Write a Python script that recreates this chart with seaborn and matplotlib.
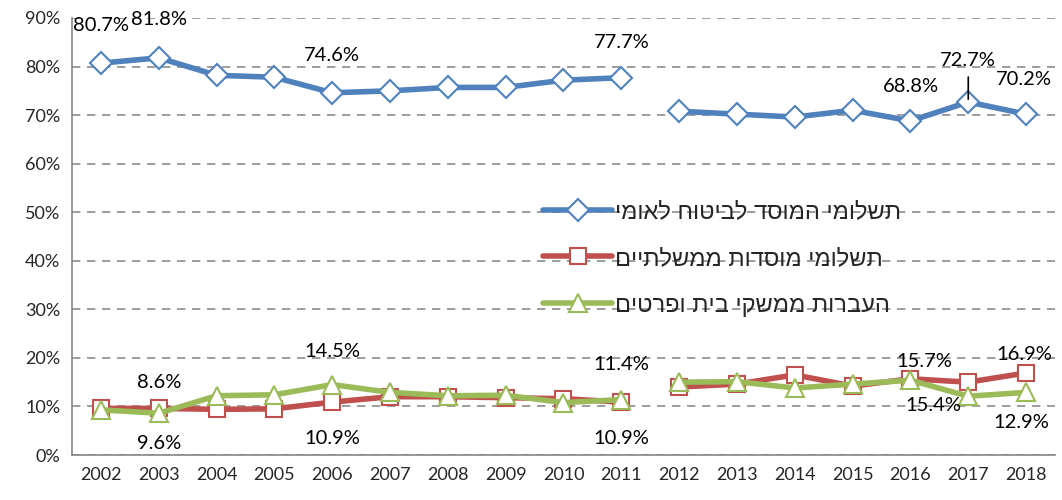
import numpy as np
import pandas as pd
import seaborn as sns
from matplotlib import pyplot as plt
from matplotlib.ticker import PercentFormatter, MultipleLocator

# נתונים (אחוזים)
years = list(range(2002, 2019))
bituach_leumi = [80.7, 81.8, 78.2, 77.8, 74.6, 75.0, 75.7, 75.7, 77.2, 77.7,
                 70.8, 70.2, 69.6, 71.0, 68.8, 72.7, 70.2]
mosdot = [9.6, 9.6, 9.4, 9.5, 10.9, 12.0, 12.0, 11.8, 11.6, 10.9,
          14.0, 14.6, 16.5, 14.2, 15.7, 15.0, 16.9]
meshakei_bait = [9.3, 8.6, 12.2, 12.4, 14.5, 12.9, 12.2, 12.3, 10.8, 11.4,
                 15.0, 15.1, 13.8, 14.6, 15.4, 12.1, 12.9]

series_names = ['תשלומי המוסד לביטוח לאומי', 'תשלומי מוסדות ממשלתיים', 'העברות ממשקי בית ופרטים']
colors = ['#4F81BD', '#C0504D', '#9BBB59']
markers = ['D', 's', '^']
marker_sizes = [11, 12, 13]

# תוויות נתונים: (סדרה, שנה, היסט x, היסט y בפיקסלים)
labels = [
    (0, 2002, 0, 38), (0, 2003, 0, 38), (0, 2006, 0, 37), (0, 2011, 0, 35),
    (0, 2016, 0, 34), (0, 2017, 0, 42), (0, 2018, -2, 35),
    (1, 2003, 0, -35), (1, 2006, 0, -36), (1, 2011, 0, -36),
    (1, 2016, 14, 17), (1, 2018, -2, 18),
    (2, 2003, 0, 31), (2, 2006, 0, 33), (2, 2011, 0, 35),
    (2, 2016, 23, -25), (2, 2018, -5, -30),
]

values = [bituach_leumi, mosdot, meshakei_bait]
rows = []
for name, vals in zip(series_names, values):
    for y, v in zip(years, vals):
        rows.append({'series': name, 'year': y, 'value': v / 100,
                     'period': 0 if y <= 2011 else 1})
df = pd.DataFrame(rows)

sns.set_style('white')
plt.rcParams['font.family'] = ['Lato', 'DejaVu Sans']

fig = plt.figure(figsize=(10.62, 5), dpi=100)
ax = fig.add_axes([72 / 1062, 45 / 500, 983 / 1062, 437 / 500])

for i, name in enumerate(series_names):
    for period in [0, 1]:
        sub = df[(df['series'] == name) & (df['period'] == period)]
        sns.lineplot(data=sub, x='year', y='value', ax=ax, color=colors[i],
                     linewidth=4, marker=markers[i], markersize=marker_sizes[i],
                     markerfacecolor='white', markeredgecolor=colors[i],
                     markeredgewidth=1.5, label=name[::-1] if period == 0 else None,
                     zorder=3 + i)

for s, yr, dx, dy in labels:
    v = values[s][years.index(yr)]
    ax.annotate(f'{v:.1f}%', (yr, v / 100), xytext=(dx, dy), textcoords='offset pixels',
                ha='center', va='center', fontsize=14.5, color='black', zorder=10)
# קו מוביל ל-2017
v17 = bituach_leumi[years.index(2017)] / 100
ax.annotate('', (2017, v17), xytext=(0, 25), textcoords='offset pixels',
            arrowprops=dict(arrowstyle='-', color='black', lw=1.2,
                            shrinkA=0, shrinkB=2))

ax.set_xlim(2001.5, 2018.5)
ax.set_ylim(0, 0.9)
ax.yaxis.set_major_locator(MultipleLocator(0.1))
ax.yaxis.set_major_formatter(PercentFormatter(1.0, decimals=0))
ax.set_xticks(years)
ax.set_xticklabels([str(y) for y in years])
ax.set_xticks(np.arange(2001.5, 2019, 1), minor=True)
ax.tick_params(axis='x', which='major', length=0, labelsize=13, pad=9)
ax.tick_params(axis='x', which='minor', length=6, color='#868686', width=1.2)
ax.tick_params(axis='y', which='major', length=5, color='#868686', width=1.2,
               labelsize=13, direction='out')
ax.grid(axis='y', linestyle=(0, (5, 4)), color='#8c8c8c', linewidth=1.2)
ax.set_axisbelow(True)
ax.set_xlabel('')
ax.set_ylabel('')
for side in ['top', 'right']:
    ax.spines[side].set_visible(False)
for side in ['left', 'bottom']:
    ax.spines[side].set_color('#868686')
    ax.spines[side].set_linewidth(1.2)

ax.legend(loc='upper left', bbox_to_anchor=(0.458, 0.63), frameon=False,
          handlelength=2.9, labelspacing=1.05, handletextpad=0.15,
          prop={'family': ['Liberation Sans', 'DejaVu Sans'], 'size': 17})

plt.savefig('out.png', dpi=100)
